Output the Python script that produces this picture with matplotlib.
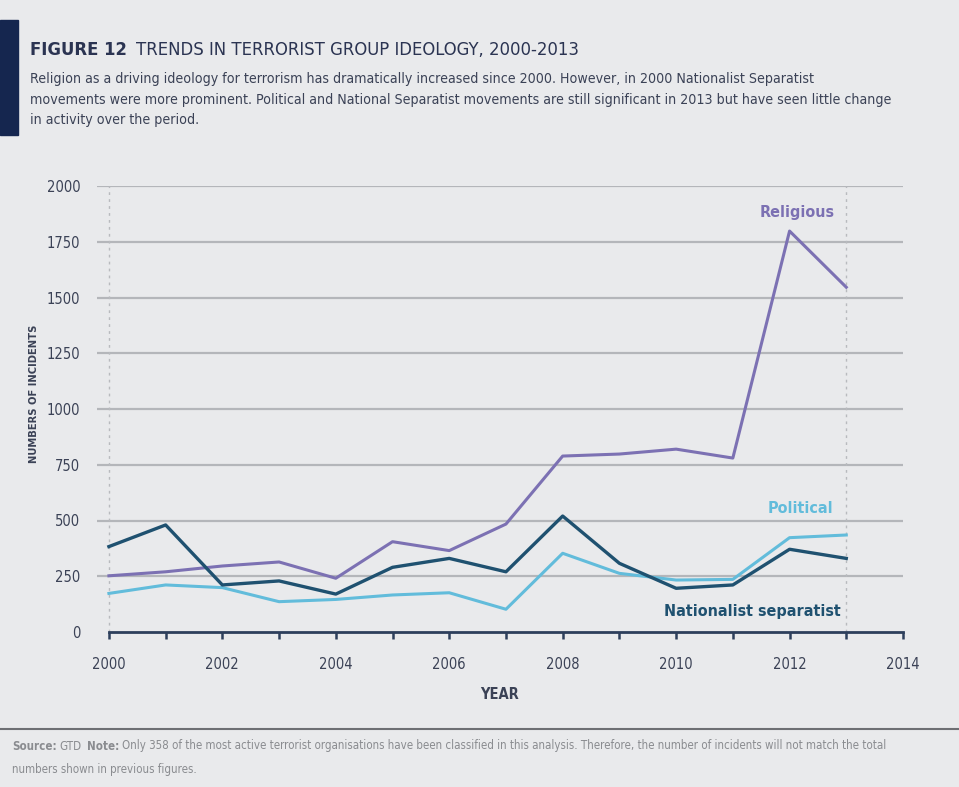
import matplotlib.pyplot as plt
from matplotlib import font_manager

# data
years = list(range(2000, 2014))
religious = [252, 270, 296, 314, 241, 405, 365, 484, 789, 798, 820, 780, 1798, 1546]
nationalist = [383, 480, 211, 229, 170, 290, 330, 270, 520, 308, 196, 211, 371, 330]
political = [173, 211, 199, 136, 146, 166, 176, 102, 353, 263, 233, 236, 423, 435]
yticks = [0, 250, 500, 750, 1000, 1250, 1500, 1750, 2000]
xticklabels = [2000, 2002, 2004, 2006, 2008, 2010, 2012, 2014]

bg = '#e9eaec'
txt = '#3b4256'
purple = '#7c71b3'
navy = '#1f5170'
lightblue = '#62bcdb'

# look for a condensed face, otherwise fall back to Roboto
cond = [f for f in font_manager.fontManager.ttflist if 'ondensed' in str(f.stretch) or 'Narrow' in f.name]
if cond:
    fam = cond[0].name
    stretch = cond[0].stretch
else:
    fam = 'Roboto'
    stretch = 'normal'
plt.rcParams['font.family'] = [fam, 'DejaVu Sans']
plt.rcParams['font.stretch'] = stretch

fig = plt.figure(figsize=(9.59, 7.87), dpi=100, facecolor=bg)

# left accent bar
fig.patches.append(plt.Rectangle((0, 1 - 135 / 787), 18 / 959, 115 / 787,
                                 transform=fig.transFigure, color='#15264f', zorder=5))

t1 = fig.text(30 / 959, 1 - 50 / 787, 'FIGURE 12', fontsize=13.2, fontweight='bold',
              color='#2b3452', va='center')
fig.canvas.draw()
bb = t1.get_window_extent()
fig.text((bb.x1 + 9) / 959, 1 - 50 / 787, 'TRENDS IN TERRORIST GROUP IDEOLOGY, 2000-2013',
         fontsize=13.2, color='#2b3452', va='center')
sub = ('Religion as a driving ideology for terrorism has dramatically increased since 2000. However, in 2000 Nationalist Separatist\n'
       'movements were more prominent. Political and National Separatist movements are still significant in 2013 but have seen little change\n'
       'in activity over the period.')
fig.text(30 / 959, 1 - 72 / 787, sub, fontsize=10.2, color=txt, va='top', linespacing=1.6)

ax = fig.add_axes([97 / 959, 1 - 632 / 787, (903 - 97) / 959, (632 - 186) / 787])
ax.set_facecolor(bg)
ax.set_xlim(1999.79, 2014)
ax.set_ylim(0, 2000)

for v in yticks[1:]:
    ax.axhline(v, color='#b4b6ba', lw=1.6, zorder=1)
ax.axvline(2000, color='#b8babe', lw=1, ls=(0, (2, 3)), zorder=1)
ax.axvline(2013, color='#b8babe', lw=1, ls=(0, (2, 3)), zorder=1)

ax.plot(years, religious, color=purple, lw=2.2, zorder=3)
ax.plot(years, political, color=lightblue, lw=2.2, zorder=3)
ax.plot(years, nationalist, color=navy, lw=2.4, zorder=4)

for s in ['top', 'right', 'left']:
    ax.spines[s].set_visible(False)
ax.spines['bottom'].set_bounds(2000, 2014)
ax.spines['bottom'].set_color('#2d3f5c')
ax.spines['bottom'].set_linewidth(2)
ax.spines['bottom'].set_zorder(5)

ax.set_xticks(range(2000, 2015), minor=True)
ax.set_xticks(xticklabels)
ax.set_xticklabels([str(x) for x in xticklabels])
ax.tick_params(axis='x', which='both', direction='out', length=5, width=1.8,
               color='#2d3f5c', labelsize=10.5, labelcolor=txt, pad=13)
ax.set_yticks(yticks)
ax.set_yticklabels([str(v) for v in yticks])
ax.tick_params(axis='y', length=0, labelsize=10.5, labelcolor=txt, pad=12)

ax.set_xlabel('YEAR', fontsize=10.5, fontweight='bold', color=txt, labelpad=11)
ax.set_ylabel('NUMBERS OF INCIDENTS', fontsize=8, fontweight='bold', color=txt)
ax.yaxis.set_label_coords(-58 / 806, 0.535)

ax.text(2012.13, 1883, 'Religious', color=purple, fontsize=11.5, fontweight='bold',
        ha='center', va='center')
ax.text(2012.19, 552, 'Political', color=lightblue, fontsize=11.5, fontweight='bold',
        ha='center', va='center')
ax.text(2011.34, 94, 'Nationalist separatist', color=navy, fontsize=11.5, fontweight='bold',
        ha='center', va='center')

# footer
fig.add_artist(plt.Line2D([0, 1], [1 - 729 / 787, 1 - 729 / 787], color='#6d6f73', lw=1.5))
foot_y = 1 - 746 / 787
f1 = fig.text(12 / 959, foot_y, 'Source:', fontsize=8.3, fontweight='bold', color='#8a8c90', va='center')
fig.canvas.draw()
x = f1.get_window_extent().x1 + 3
f2 = fig.text(x / 959, foot_y, 'GTD', fontsize=8.3, color='#8a8c90', va='center')
fig.canvas.draw()
x = f2.get_window_extent().x1 + 5
f3 = fig.text(x / 959, foot_y, 'Note:', fontsize=8.3, fontweight='bold', color='#8a8c90', va='center')
fig.canvas.draw()
x = f3.get_window_extent().x1 + 3
fig.text(x / 959, foot_y,
         'Only 358 of the most active terrorist organisations have been classified in this analysis. '
         'Therefore, the number of incidents will not match the total',
         fontsize=8.3, color='#8a8c90', va='center')
fig.text(12 / 959, 1 - 770 / 787, 'numbers shown in previous figures.', fontsize=8.3,
         color='#8a8c90', va='center')

fig.savefig('out.png', dpi=100, facecolor=bg)
